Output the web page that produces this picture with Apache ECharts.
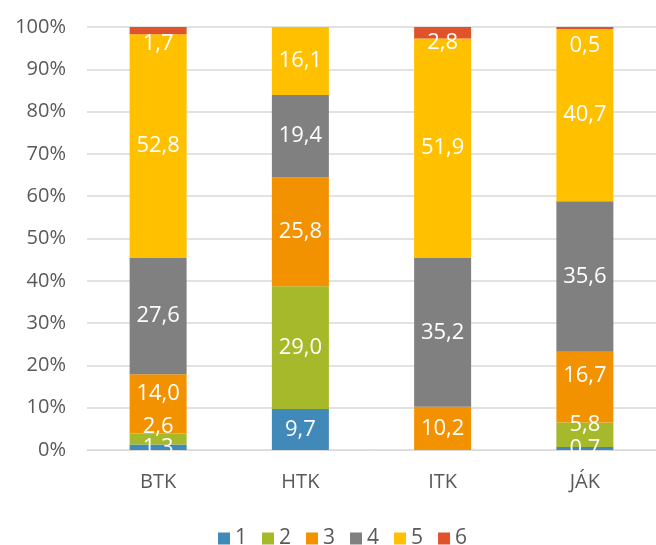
<!DOCTYPE html>
<html>
<head>
<meta charset="utf-8">
<script src="https://cdn.jsdelivr.net/npm/echarts@6/dist/echarts.min.js"></script>
<style>
  html, body { margin: 0; padding: 0; background: #fff; }
  #main { width: 656px; height: 545px; }
</style>
</head>
<body>
<div id="main"></div>
<script>
// kategóriák és sorozatok (százalék)
const categories = ['BTK', 'HTK', 'ITK', 'JÁK']
const seriesNames = ['1', '2', '3', '4', '5', '6']
const s1 = [1.3, 9.7, 0, 0.7]
const s2 = [2.6, 29.0, 0, 5.8]
const s3 = [14.0, 25.8, 10.2, 16.7]
const s4 = [27.6, 19.4, 35.2, 35.6]
const s5 = [52.8, 16.1, 51.9, 40.7]
const s6 = [1.7, 0, 2.8, 0.5]
const yTicks = [0, 10, 20, 30, 40, 50, 60, 70, 80, 90, 100]

const colors = ['#4189b9', '#a5b92a', '#f39200', '#808080', '#ffc000', '#e0522a']
const font = 'Open Sans'

// kézzel elmozgatott címkék (mint az eredeti Excel ábrán)
const nudge = {
  '1|BTK': -12, '2|BTK': -10, '1|JÁK': -10, '2|JÁK': -11,
  '5|BTK': 13, '5|ITK': 10, '5|JÁK': 18
}

const allSeries = [s1, s2, s3, s4, s5, s6]
const chart = echarts.init(document.getElementById('main'))
chart.setOption({
  animation: false,
  color: colors,
  grid: { left: 87, right: -5, top: 27, bottom: 95 },
  legend: {
    bottom: -9,
    left: 213,
    itemWidth: 12,
    itemHeight: 12,
    itemGap: 15,
    icon: 'rect',
    textStyle: { fontFamily: font, fontSize: 21, color: '#595959' },
    data: seriesNames
  },
  xAxis: {
    type: 'category',
    data: categories,
    axisLine: { lineStyle: { color: '#d9d9d9', width: 1 } },
    axisTick: { show: false },
    axisLabel: { fontFamily: font, fontSize: 20, color: '#595959', margin: 22 }
  },
  yAxis: {
    type: 'value',
    min: yTicks[0],
    max: yTicks[yTicks.length - 1],
    interval: 10,
    axisLine: { show: false },
    axisTick: { show: false },
    splitLine: { lineStyle: { color: '#d9d9d9', width: 1.5 } },
    axisLabel: {
      fontFamily: font, fontSize: 20, color: '#595959', margin: 21,
      formatter: '{value}%'
    }
  },
  series: allSeries.map((vals, i) => ({
    name: seriesNames[i],
    type: 'bar',
    stack: 'total',
    barWidth: 57,
    data: vals.map((v, j) => {
      const off = nudge[i + '|' + categories[j]] || 0
      return { value: v, label: { offset: [0, off] } }
    }),
    label: {
      show: true,
      position: 'inside',
      color: '#fff',
      fontFamily: font,
      fontSize: 22,
      formatter: p => p.value ? p.value.toFixed(1).replace('.', ',') : ''
    }
  }))
})
</script>
</body>
</html>
